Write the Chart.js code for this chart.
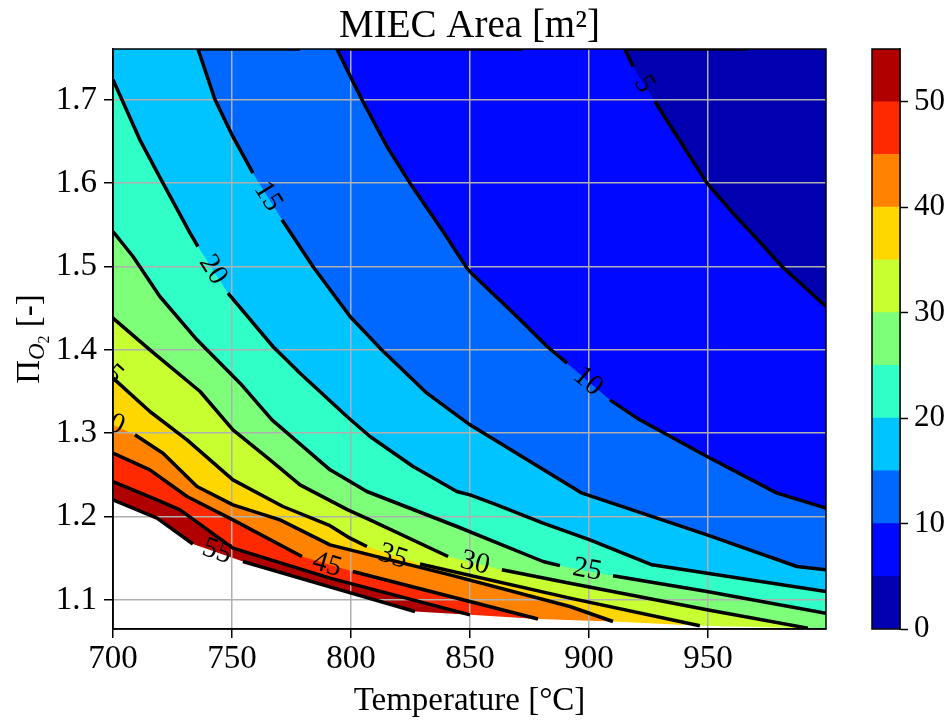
<!DOCTYPE html>
<html>
<head>
<meta charset="utf-8">
<script src="https://cdn.jsdelivr.net/npm/chart.js@4/dist/chart.umd.min.js"></script>
<style>
  html, body { margin: 0; padding: 0; background: #ffffff; }
  #wrap { position: relative; width: 947px; height: 725px; }
  #main { position: absolute; left: 0; top: 0; }
  #bar { position: absolute; left: 862px; top: 0; }
</style>
</head>
<body>
<div id="wrap">
  <canvas id="main" width="947" height="725"></canvas>
  <canvas id="bar" width="85" height="725"></canvas>
</div>
<script>
// ---- axis ranges and ticks ----
const tRange = [700, 999.6];          // temperature [°C]
const piRange = [1.065, 1.761];       // Pi_O2 [-]
const xTicks = [700, 750, 800, 850, 900, 950];
const yTicks = [1.1, 1.2, 1.3, 1.4, 1.5, 1.6, 1.7];
const cbTicks = [0, 10, 20, 30, 40, 50];

// ---- contour levels and jet band colours (band i spans levels[i]..levels[i+1]) ----
const levels = [0, 5, 10, 15, 20, 25, 30, 35, 40, 45, 50, 55];
const contourLevels = [5, 10, 15, 20, 25, 30, 35, 40, 45, 50, 55];
const bandColors = ['#0000b1', '#0008ff', '#0068ff', '#00c4ff', '#30ffc7', '#7dff7a',
                    '#c7ff30', '#ffd700', '#ff8200', '#ff2900', '#b10000'];

// ---- iso-area lines [T, Pi]; each line is split into pieces where its label sits ----
const c5 = [
  [[915.1, 1.761], [918.5, 1.740]],
  [[927.7, 1.698], [949.6, 1.600], [960.5, 1.564], [971.0, 1.532], [981.1, 1.500], [999.6, 1.452]]
];
const c10 = [
  [[794.1, 1.761], [800.4, 1.724], [805.0, 1.698], [815.1, 1.644], [824.8, 1.600], [838.2, 1.544],
   [848.7, 1.498], [851.3, 1.490], [869.7, 1.440], [882.4, 1.404], [890.8, 1.384]],
  [[908.8, 1.340], [920.2, 1.318], [949.6, 1.272], [979.0, 1.228], [999.6, 1.210]]
];
const c15 = [
  [[735.7, 1.761], [742.9, 1.700], [750.0, 1.658], [758.8, 1.612]],
  [[771.0, 1.556], [784.0, 1.500], [799.6, 1.440], [812.2, 1.402], [831.9, 1.348], [850.0, 1.310],
   [897.1, 1.228], [949.6, 1.178], [987.4, 1.140], [999.6, 1.136]]
];
const c20 = [
  [[700.0, 1.724], [711.3, 1.652], [721.0, 1.600], [732.4, 1.540], [735.7, 1.524]],
  [[748.3, 1.468], [767.2, 1.404], [778.6, 1.372], [798.3, 1.320], [808.0, 1.296], [826.1, 1.260],
   [844.5, 1.230], [850.0, 1.226], [861.3, 1.214], [880.7, 1.192], [900.4, 1.172], [926.5, 1.142],
   [999.6, 1.110]]
];
const c25 = [
  [[700.0, 1.542], [708.4, 1.512], [719.7, 1.464], [735.3, 1.412], [753.4, 1.360], [766.8, 1.316],
   [791.2, 1.256], [806.7, 1.230], [844.5, 1.188], [880.7, 1.146], [887.8, 1.141]],
  [[910.1, 1.129], [949.6, 1.110], [999.6, 1.084]]
];
const c30 = [
  [[700.0, 1.438], [715.5, 1.400], [736.6, 1.350], [750.4, 1.304], [766.0, 1.268], [778.6, 1.238],
   [798.7, 1.208], [808.0, 1.196], [840.8, 1.152]],
  [[863.4, 1.136], [892.0, 1.120], [949.6, 1.088], [992.0, 1.066]]
];
const c35 = [
  [[700.0, 1.366], [715.5, 1.326], [731.1, 1.292], [750.4, 1.244], [771.4, 1.212], [791.2, 1.189],
   [799.6, 1.174], [806.7, 1.164]],
  [[829.0, 1.143], [892.0, 1.102], [946.6, 1.069]]
];
const c40 = [
  [[700.0, 1.310]],
  [[709.2, 1.298], [721.0, 1.276], [735.3, 1.236], [750.4, 1.214], [770.2, 1.196], [791.2, 1.166],
   [841.6, 1.130], [892.0, 1.092], [910.1, 1.074]]
];
const c45 = [
  [[700.0, 1.276], [715.5, 1.256], [731.1, 1.224], [750.4, 1.196], [779.4, 1.152]],
  [[800.8, 1.134], [878.6, 1.077]]
];
const c50 = [
  [[700.0, 1.242], [718.5, 1.220], [728.2, 1.208], [750.4, 1.162], [791.2, 1.126], [850.0, 1.082]]
];
const c55 = [
  [[700.0, 1.220], [718.5, 1.198], [733.6, 1.167]],
  [[754.6, 1.146], [795.4, 1.112], [826.9, 1.086]]
];
const contours = { 5: c5, 10: c10, 15: c15, 20: c20, 25: c25, 30: c30,
                   35: c35, 40: c40, 45: c45, 50: c50, 55: c55 };

// lines that also run along the upper edge, up to this temperature
const topRuns = { 5: 966.8, 10: 872.3, 15: 778.6 };

// lower edge of the computed domain (nothing is drawn below it)
const domainEdge = [
  [700.0, 1.220], [718.5, 1.198], [733.6, 1.167], [754.6, 1.146], [795.4, 1.112], [826.9, 1.086],
  [850.0, 1.082], [878.6, 1.077], [910.1, 1.074], [946.6, 1.069], [992.0, 1.066], [999.6, 1.065]
];

// inline contour labels: [level, T, Pi]
const labelSpots = [
  [5, 923.1, 1.719], [10, 899.6, 1.362], [15, 765.1, 1.584], [20, 742.0, 1.496],
  [25, 899.2, 1.136], [30, 852.1, 1.144], [35, 817.6, 1.152], [45, 789.9, 1.142],
  [55, 743.7, 1.158], [35, 697.9, 1.376], [40, 698.7, 1.314]
];

const serif = '"Liberation Serif", "Times New Roman", serif';
const toPts = arr => arr.map(p => ({ x: p[0], y: p[1] }));

// ---- filled bands: painted from the lowest level up, the domain mask last ----
const datasets = [];
datasets.push({
  data: toPts(domainEdge), fill: 'start', backgroundColor: '#ffffff',
  borderWidth: 0, borderColor: 'rgba(0,0,0,0)', pointRadius: 0
});
for (let i = contourLevels.length - 1; i >= 0; i--) {
  const L = contourLevels[i];
  const pts = contours[L].flat();
  if (pts[0][1] >= piRange[1] - 1e-9) pts.unshift([tRange[0], piRange[1]]);
  datasets.push({
    data: toPts(pts), fill: 'start', backgroundColor: bandColors[levels.indexOf(L)],
    borderWidth: 0, borderColor: 'rgba(0,0,0,0)', pointRadius: 0
  });
}
datasets.push({
  data: toPts([[tRange[0], piRange[1]], [tRange[1], piRange[1]]]), fill: 'start',
  backgroundColor: bandColors[0], borderWidth: 0, borderColor: 'rgba(0,0,0,0)', pointRadius: 0
});

// ---- contour lines ----
for (const L of contourLevels) {
  const pts = [];
  if (topRuns[L]) pts.push({ x: topRuns[L], y: piRange[1] });
  contours[L].forEach((piece, k) => {
    if (k > 0) {
      const prev = contours[L][k - 1];
      const a = prev[prev.length - 1], b = piece[0];
      pts.push({ x: (a[0] + b[0]) / 2, y: null });
    }
    piece.forEach(p => pts.push({ x: p[0], y: p[1] }));
  });
  datasets.push({
    data: pts, fill: false, borderColor: '#000000', borderWidth: 3.5,
    pointRadius: 0, spanGaps: false, tension: 0,
    borderCapStyle: 'butt', borderJoinStyle: 'round'
  });
}

// labels along the lines, rotated with the local direction, clipped to the axes
const contourLabels = {
  id: 'contourLabels',
  afterDatasetsDraw(chart) {
    const { ctx, chartArea: a, scales: { x, y } } = chart;
    ctx.save();
    ctx.beginPath();
    ctx.rect(a.left, a.top, a.right - a.left, a.bottom - a.top);
    ctx.clip();
    ctx.font = '29px ' + serif;
    ctx.fillStyle = '#000';
    ctx.textAlign = 'center';
    ctx.textBaseline = 'middle';
    for (const [L, tv, pv] of labelSpots) {
      const px = x.getPixelForValue(tv), py = y.getPixelForValue(pv);
      const pts = contours[L].flat().map(p => [x.getPixelForValue(p[0]), y.getPixelForValue(p[1])]);
      let best = Infinity, ang = 0;
      for (let i = 0; i < pts.length - 1; i++) {
        const mx = (pts[i][0] + pts[i + 1][0]) / 2, my = (pts[i][1] + pts[i + 1][1]) / 2;
        const d = Math.hypot(mx - px, my - py);
        if (d < best) {
          best = d;
          ang = Math.atan2(pts[i + 1][1] - pts[i][1], pts[i + 1][0] - pts[i][0]);
        }
      }
      if (ang > Math.PI / 2) ang -= Math.PI;
      if (ang < -Math.PI / 2) ang += Math.PI;
      ctx.save();
      ctx.translate(px, py);
      ctx.rotate(ang);
      ctx.fillText(String(L), 0, 0);
      ctx.restore();
    }
    ctx.restore();
    // axes frame
    ctx.save();
    ctx.strokeStyle = '#000';
    ctx.lineWidth = 1.5;
    ctx.strokeRect(a.left, a.top, a.right - a.left, a.bottom - a.top);
    ctx.restore();
  }
};

// title and the y axis label with its subscript
const axisTexts = {
  id: 'axisTexts',
  afterDraw(chart) {
    const { ctx, chartArea: a } = chart;
    ctx.save();
    ctx.fillStyle = '#000';
    ctx.textBaseline = 'alphabetic';
    ctx.textAlign = 'center';
    ctx.font = '39px ' + serif;
    ctx.fillText('MIEC Area [m²]', (a.left + a.right) / 2, 37);

    // Π_{O2} [-] rotated
    const parts = [
      { t: 'Π', f: '33px ' + serif, dy: 0 },
      { t: 'O', f: 'italic 23px ' + serif, dy: 5 },
      { t: '2', f: '16px ' + serif, dy: 10 },
      { t: ' [-]', f: '33px ' + serif, dy: 0 }
    ];
    let w = 0;
    parts.forEach(p => { ctx.font = p.f; p.w = ctx.measureText(p.t).width; w += p.w; });
    ctx.translate(39, (a.top + a.bottom) / 2);
    ctx.rotate(-Math.PI / 2);
    ctx.textAlign = 'left';
    let cx = -w / 2;
    parts.forEach(p => { ctx.font = p.f; ctx.fillText(p.t, cx, p.dy); cx += p.w; });
    ctx.restore();
  }
};

new Chart(document.getElementById('main'), {
  type: 'line',
  data: { datasets },
  plugins: [contourLabels, axisTexts],
  options: {
    responsive: false,
    animation: false,
    events: [],
    layout: { padding: { left: 0, right: 121, top: 49, bottom: 0 } },
    plugins: {
      legend: { display: false },
      tooltip: { enabled: false },
      filler: { drawTime: 'beforeDraw' }
    },
    scales: {
      x: {
        type: 'linear', min: tRange[0], max: tRange[1],
        afterBuildTicks: s => { s.ticks = xTicks.map(v => ({ value: v })); },
        afterFit: s => { s.height = 96; },
        ticks: { font: { family: serif, size: 33 }, color: '#000', padding: 2,
                 autoSkip: false, maxRotation: 0, callback: v => String(v) },
        grid: { color: '#b0b0b0', lineWidth: 1.5, tickColor: '#000', tickLength: 9, tickWidth: 1.5 },
        border: { color: '#000', width: 1.5 },
        title: { display: true, text: 'Temperature [°C]', color: '#000',
                 font: { family: serif, size: 33 }, padding: { top: 0, bottom: 4 } }
      },
      y: {
        type: 'linear', min: piRange[0], max: piRange[1],
        afterBuildTicks: s => { s.ticks = yTicks.map(v => ({ value: v })); },
        afterFit: s => { s.width = 113; },
        ticks: { font: { family: serif, size: 33 }, color: '#000', padding: 7,
                 autoSkip: false, callback: v => v.toFixed(1) },
        grid: { color: '#b0b0b0', lineWidth: 1.5, tickColor: '#000', tickLength: 9, tickWidth: 1.5 },
        border: { color: '#000', width: 1.5 }
      }
    }
  }
});

// ---- colour bar ----
const cbFrame = {
  id: 'cbFrame',
  afterDatasetsDraw(chart) {
    const { ctx, chartArea: a } = chart;
    ctx.save();
    ctx.strokeStyle = '#000';
    ctx.lineWidth = 1.5;
    ctx.strokeRect(a.left, a.top, a.right - a.left, a.bottom - a.top);
    ctx.restore();
  }
};
new Chart(document.getElementById('bar'), {
  type: 'bar',
  data: {
    labels: [''],
    datasets: bandColors.map((c, i) => ({
      data: [levels[i + 1] - levels[i]], backgroundColor: c, borderWidth: 0,
      barPercentage: 1, categoryPercentage: 1
    }))
  },
  plugins: [cbFrame],
  options: {
    responsive: false,
    animation: false,
    events: [],
    layout: { padding: { left: 10, right: 0, top: 49, bottom: 96 } },
    plugins: { legend: { display: false }, tooltip: { enabled: false } },
    scales: {
      x: { display: false, stacked: true },
      y: {
        stacked: true, position: 'right', min: levels[0], max: levels[levels.length - 1],
        afterBuildTicks: s => { s.ticks = cbTicks.map(v => ({ value: v })); },
        afterFit: s => { s.width = 47; },
        ticks: { font: { family: serif, size: 31 }, color: '#000', padding: 6, autoSkip: false },
        grid: { drawOnChartArea: false, tickColor: '#000', tickLength: 8, tickWidth: 1.5 },
        border: { color: '#000', width: 1.5 }
      }
    }
  }
});
</script>
</body>
</html>
